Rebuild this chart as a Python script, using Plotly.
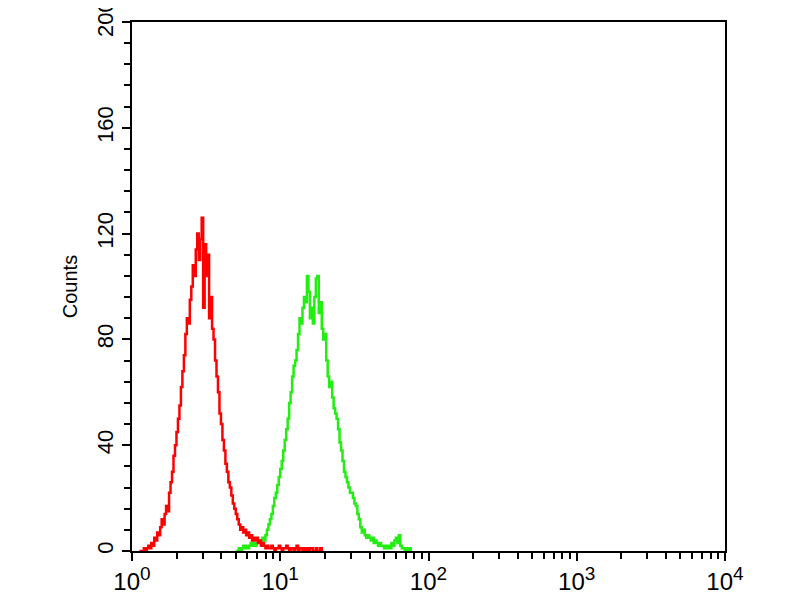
import plotly.graph_objects as go

# Histogram channels: 100 channels per decade, intensity = 10**(channel/100)
red_start_channel = 5
red_counts = [0, 0, 0, 1, 0, 1, 2, 1, 3, 2, 5, 4, 7, 6, 9, 12, 10, 14, 17, 15,
              22, 26, 30, 36, 40, 45, 50, 55, 62, 68, 74, 82, 88, 86, 95, 100, 108, 104, 114, 120,
              110, 118, 126, 92, 116, 104, 112, 88, 96, 84, 80, 72, 66, 60, 52, 48, 42, 38, 33, 30,
              26, 24, 21, 18, 16, 14, 12, 10, 8, 9, 7, 8, 6, 7, 5, 6, 4, 5, 4, 5,
              3, 4, 2, 3, 2, 1, 2, 1, 1, 2, 1, 0, 1, 1, 2, 1, 0, 1, 1, 2,
              1, 0, 1, 1, 0, 1, 2, 0, 1, 1, 0, 1, 0, 1, 0, 1, 1, 0, 0, 1,
              0, 0, 1, 0, 0]

green_start_channel = 70
green_counts = [0, 0, 1, 0, 1, 2, 1, 2, 1, 2, 3, 2, 3, 2, 3, 4, 3, 4, 5, 4,
                6, 8, 10, 12, 14, 17, 20, 22, 25, 28, 31, 34, 38, 42, 46, 50, 56, 60, 66, 70,
                72, 76, 82, 88, 86, 92, 96, 94, 104, 98, 88, 92, 86, 96, 103, 104, 90, 94, 84, 80,
                82, 72, 66, 62, 64, 58, 54, 52, 50, 46, 41, 38, 34, 30, 28, 26, 24, 22, 22, 20,
                18, 17, 14, 12, 9, 7, 8, 6, 5, 6, 5, 4, 5, 3, 4, 3, 2, 3, 2, 2,
                1, 2, 1, 2, 1, 3, 2, 4, 5, 3, 6, 2, 1, 1, 0, 1, 0, 1, 0]

x_tick_values = [1, 10, 100, 1000, 10000]
x_tick_exponents = ["0", "1", "2", "3", "4"]
y_tick_values = [0, 40, 80, 120, 160, 200]
y_title = "Counts"

red_x = [10 ** ((red_start_channel + i) / 100) for i in range(len(red_counts))]
green_x = [10 ** ((green_start_channel + i) / 100) for i in range(len(green_counts))]
x_tick_labels = ["10<sup><span style='font-size:19px'>%s</span></sup>" % e for e in x_tick_exponents]

minor_x = [m * 10 ** d for d in range(4) for m in range(2, 10)]

fig = go.Figure()
fig.add_trace(go.Scatter(x=green_x, y=green_counts, mode="lines", line=dict(color="#22ee11", width=2.5, shape="hv"),
                         showlegend=False))
fig.add_trace(go.Scatter(x=red_x, y=red_counts, mode="lines", line=dict(color="#ff0000", width=2.5, shape="hv"),
                         showlegend=False))

fig.update_layout(
    width=800, height=600,
    margin=dict(l=124, r=83, t=14, b=57, autoexpand=False),
    paper_bgcolor="white", plot_bgcolor="white",
    font=dict(family="Liberation Sans, Arial, sans-serif", color="black"),
    xaxis=dict(type="log", range=[0, 4], tickmode="array", tickvals=x_tick_values, ticktext=x_tick_labels,
               ticks="outside", ticklen=8, tickwidth=2, tickcolor="black", automargin=False,
               ticklabeloverflow="allow",
               showline=True, linecolor="black", linewidth=2, mirror=True, showgrid=False, zeroline=False,
               tickfont=dict(size=24),
               minor=dict(tickmode="array", tickvals=minor_x, ticks="outside", ticklen=6, tickwidth=2,
                          tickcolor="black", showgrid=False)),
    yaxis=dict(range=[0, 200], tickmode="array", tickvals=y_tick_values, tickangle=-90,
               ticks="outside", ticklen=8, tickwidth=2, tickcolor="black", automargin=False,
               ticklabeloverflow="allow",
               showline=True, linecolor="black", linewidth=2, mirror=True, showgrid=False, zeroline=False,
               tickfont=dict(size=22),
               minor=dict(dtick=8, tick0=0, ticks="outside", ticklen=6, tickwidth=2, tickcolor="black",
                          showgrid=False),
               title=dict(text=y_title, font=dict(size=20), standoff=10)),
)

fig.write_html("out.html")
